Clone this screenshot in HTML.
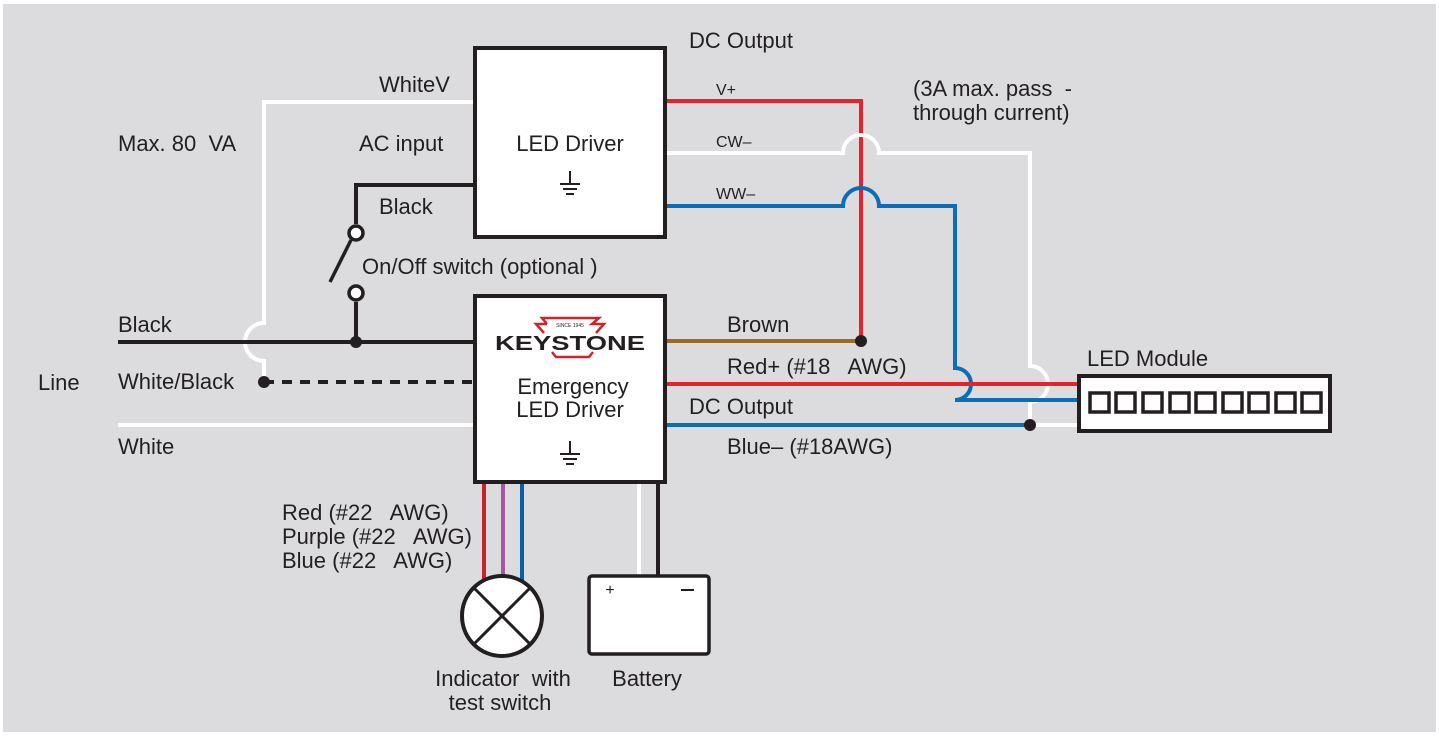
<!DOCTYPE html>
<html><head><meta charset="utf-8"><style>
html,body{margin:0;padding:0;background:#fff;}
svg{display:block;}
text{font-family:"Liberation Sans",sans-serif;fill:#231f20;white-space:pre;}
</style></head><body>
<svg width="1439" height="737" viewBox="0 0 1439 737" xmlns="http://www.w3.org/2000/svg" xml:space="preserve">
<rect x="3" y="4" width="1433" height="728" fill="#dcdcde"/>
<g fill="none" stroke-width="4">
<path d="M474 102 H264 V323 A19 19 0 0 0 264 361 V382" stroke="#fff"/>
<path d="M474 185 H356 V224" stroke="#231f20"/>
<path d="M356 302 V342" stroke="#231f20"/>
<line x1="351" y1="240" x2="330" y2="282" stroke="#231f20" stroke-width="3.5"/>
<circle cx="356" cy="233" r="7" stroke="#231f20" stroke-width="3.5" fill="#fff"/>
<circle cx="356" cy="293" r="7" stroke="#231f20" stroke-width="3.5" fill="#fff"/>
<path d="M118 342 H474" stroke="#231f20"/>
<path d="M264 382 H474" stroke="#231f20" stroke-dasharray="10 8"/>
<path d="M118 425 H474" stroke="#fff"/>
<path d="M666 101 H861 V341" stroke="#e5232d"/>
<path d="M666 153 H843 A18 18 0 0 1 879 153 H1030 V366 A18 18 0 0 1 1030 402 V425 H1078" stroke="#fff"/>
<path d="M666 206 H843 A18 18 0 0 1 879 206 H955 V368 A16 16 0 0 1 955 400 H1078" stroke="#0a6db5"/>
<path d="M666 341 H861" stroke="#9b6a26"/>
<path d="M666 384 H1078" stroke="#e5232d"/>
<path d="M666 425 H1030" stroke="#0a6db5"/>
<path d="M484 483 V580" stroke="#c0272d"/>
<path d="M503 483 V578" stroke="#a557a6"/>
<path d="M522 483 V582" stroke="#0a5fa5"/>
<path d="M639 483 V575" stroke="#fff"/>
<path d="M658 483 V575" stroke="#231f20"/>
</g>
<g fill="#231f20">
<circle cx="264" cy="382" r="6"/>
<circle cx="356" cy="342" r="6"/>
<circle cx="861" cy="341" r="6"/>
<circle cx="1030" cy="425" r="6"/>
</g>
<rect x="475" y="48" width="190" height="189" fill="#fff" stroke="#231f20" stroke-width="4"/>
<rect x="475" y="296" width="190" height="186" fill="#fff" stroke="#231f20" stroke-width="4"/>
<rect x="1079" y="376" width="251" height="55" fill="#fff" stroke="#231f20" stroke-width="4"/>
<g fill="none" stroke="#231f20" stroke-width="3.5">
<rect x="1090" y="393" width="19" height="19"/>
<rect x="1116" y="393" width="19" height="19"/>
<rect x="1143" y="393" width="19" height="19"/>
<rect x="1170" y="393" width="19" height="19"/>
<rect x="1196" y="393" width="19" height="19"/>
<rect x="1223" y="393" width="19" height="19"/>
<rect x="1249" y="393" width="19" height="19"/>
<rect x="1276" y="393" width="19" height="19"/>
<rect x="1302" y="393" width="19" height="19"/>
</g>
<g stroke="#231f20" stroke-width="2">
<line x1="570" y1="171" x2="570" y2="184"/><line x1="560" y1="184" x2="580" y2="184"/><line x1="563" y1="189" x2="577" y2="189"/><line x1="566" y1="194" x2="574" y2="194"/>
<line x1="570" y1="441" x2="570" y2="454"/><line x1="560" y1="454" x2="580" y2="454"/><line x1="563" y1="459" x2="577" y2="459"/><line x1="566" y1="464" x2="574" y2="464"/>
</g>
<path d="M547 324 L542 318 H599 L592 324 H604 L596 333 M544 333 L536 324 H547 M552 352 L556 357 H589 L593 352" fill="none" stroke="#d2232a" stroke-width="2.5"/>
<text x="570" y="327" font-size="5" text-anchor="middle">SINCE 1945</text>
<text x="570" y="350" font-size="20" font-weight="bold" text-anchor="middle" textLength="150" lengthAdjust="spacingAndGlyphs">KEYSTONE</text>
<circle cx="502" cy="616" r="40" fill="#fff" stroke="#231f20" stroke-width="4"/>
<line x1="474" y1="588" x2="530" y2="644" stroke="#231f20" stroke-width="3"/>
<line x1="530" y1="588" x2="474" y2="644" stroke="#231f20" stroke-width="3"/>
<rect x="589" y="576" width="120" height="78" rx="3" fill="#fff" stroke="#231f20" stroke-width="3.5"/>
<text x="610" y="595" font-size="16" text-anchor="middle">+</text>
<line x1="681" y1="590" x2="694" y2="590" stroke="#231f20" stroke-width="2"/>
<g font-size="22">
<text x="689" y="48">DC Output</text>
<text x="379" y="92">WhiteV</text>
<text x="118" y="151">Max. 80  VA</text>
<text x="359" y="151">AC input</text>
<text x="570" y="151" text-anchor="middle">LED Driver</text>
<text x="379" y="214">Black</text>
<text x="362" y="274">On/Off switch (optional )</text>
<text x="118" y="332">Black</text>
<text x="38" y="390">Line</text>
<text x="118" y="389">White/Black</text>
<text x="118" y="454">White</text>
<text x="573" y="394" text-anchor="middle">Emergency</text>
<text x="570" y="417" text-anchor="middle">LED Driver</text>
<text x="913" y="96">(3A max. pass  -</text>
<text x="913" y="120">through current)</text>
<text x="727" y="332">Brown</text>
<text x="727" y="374">Red+ (#18   AWG)</text>
<text x="689" y="414">DC Output</text>
<text x="727" y="454">Blue– (#18AWG)</text>
<text x="1087" y="366">LED Module</text>
<text x="282" y="520">Red (#22   AWG)</text>
<text x="282" y="544">Purple (#22   AWG)</text>
<text x="282" y="568">Blue (#22   AWG)</text>
<text x="503" y="686" text-anchor="middle">Indicator  with</text>
<text x="500" y="710" text-anchor="middle">test switch</text>
<text x="647" y="686" text-anchor="middle">Battery</text>
</g>
<g font-size="16">
<text x="716" y="95">V+</text>
<text x="716" y="147">CW–</text>
<text x="716" y="199">WW–</text>
</g>
</svg>
</body></html>
